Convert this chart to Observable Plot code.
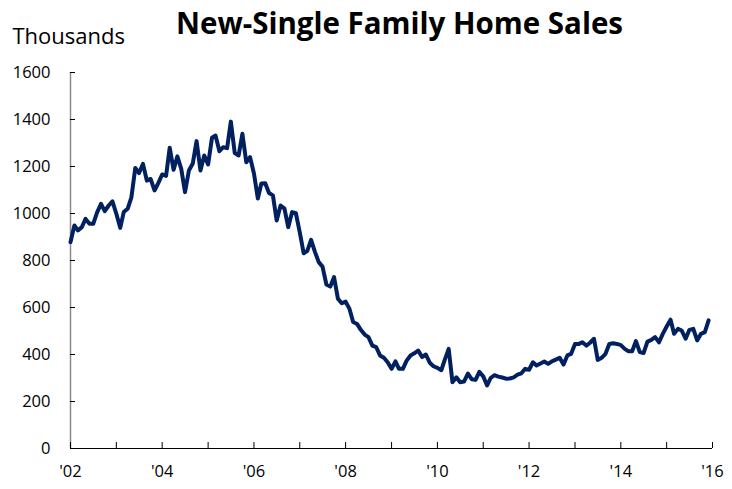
<!DOCTYPE html>
<html><head><meta charset="utf-8">
<script src="https://cdn.jsdelivr.net/npm/d3@7"></script>
<script src="https://cdn.jsdelivr.net/npm/@observablehq/plot@0.6"></script>
<style>body{margin:0;background:#fff}</style>
</head><body><div id="chart"></div>
<script>
const title = "New-Single Family Home Sales";
const unitLabel = "Thousands";
const startYear = 2002;
// monthly, Jan 2002 – Dec 2015, thousands (SAAR)
const sales = [
  878, 949, 928, 942, 977, 956, 956, 1005, 1041, 1010, 1034, 1052,
  999, 939, 1006, 1020, 1069, 1194, 1172, 1211, 1140, 1147, 1098, 1129,
  1166, 1160, 1280, 1186, 1243, 1190, 1091, 1183, 1213, 1308, 1183, 1247,
  1209, 1323, 1332, 1265, 1282, 1278, 1391, 1257, 1247, 1339, 1218, 1240,
  1170, 1064, 1128, 1129, 1087, 1077, 970, 1034, 1021, 942, 1006, 1001,
  920, 831, 840, 888, 838, 793, 774, 698, 689, 729, 637, 618,
  625, 594, 538, 530, 505, 485, 474, 438, 431, 396, 386, 367,
  339, 371, 339, 339, 374, 396, 405, 417, 389, 400, 365, 350,
  343, 333, 378, 424, 282, 303, 282, 285, 319, 295, 292, 326,
  307, 268, 300, 312, 306, 302, 297, 298, 303, 314, 320, 339,
  335, 367, 353, 362, 370, 360, 371, 378, 386, 357, 396, 403,
  445, 445, 452, 438, 450, 467, 377, 386, 403, 445, 448, 445,
  440, 424, 414, 414, 457, 410, 406, 455, 462, 474, 452, 488,
  519, 548, 488, 509, 502, 467, 505, 509, 460, 488, 495, 545
];
const yTicks = [0, 200, 400, 600, 800, 1000, 1200, 1400, 1600];
const tickYears = [2002, 2003, 2004, 2005, 2006, 2007, 2008, 2009, 2010, 2011, 2012, 2013, 2014, 2015, 2016];
const labelYears = [2002, 2004, 2006, 2008, 2010, 2012, 2014, 2016];
const yearLabels = ["'02", "'04", "'06", "'08", "'10", "'12", "'14", "'16"];

const data = sales.map((v, i) => ({date: new Date(Date.UTC(startYear, i, 1)), value: v}));
const yd = y => new Date(Date.UTC(y, 0, 1));
const xDomain = [yd(2002), yd(2016)];
const labelMap = new Map(labelYears.map((y, i) => [y, yearLabels[i]]));

const chart = Plot.plot({
  width: 732, height: 489,
  marginLeft: 70, marginRight: 20, marginTop: 72, marginBottom: 41,
  style: {fontFamily: "'Open Sans', sans-serif", fontSize: "16.5px", color: "#000", background: "#fff", overflow: "visible"},
  x: {type: "utc", domain: xDomain},
  y: {domain: [0, 1600]},
  marks: [
    Plot.ruleX([xDomain[0]], {stroke: "#8c8c8c", strokeWidth: 1.5}),
    Plot.ruleY([0], {stroke: "#000", strokeWidth: 1}),
    Plot.axisY({ticks: yTicks, tickSize: -5, tickPadding: 25, label: null, tickFormat: d => String(d), fill: "#000", stroke: "#000"}),
    Plot.axisX({ticks: tickYears.map(yd), tickSize: -6, tickPadding: 23, label: null,
      tickFormat: d => labelMap.get(d.getUTCFullYear()) || "", fill: "#000", stroke: "#000"}),
    Plot.line(data, {x: "date", y: "value", stroke: "#002060", strokeWidth: 4, strokeLinejoin: "round"}),
    Plot.text([title], {frameAnchor: "top", dx: 8, dy: -48, fontSize: 29.5, fontWeight: "bold", fill: "#000", lineAnchor: "middle"}),
    Plot.text([unitLabel], {frameAnchor: "top-left", dx: -58, dy: -36, fontSize: 22, textAnchor: "start", fill: "#000", lineAnchor: "middle"})
  ]
});
document.getElementById("chart").appendChild(chart);
</script>
</body></html>
